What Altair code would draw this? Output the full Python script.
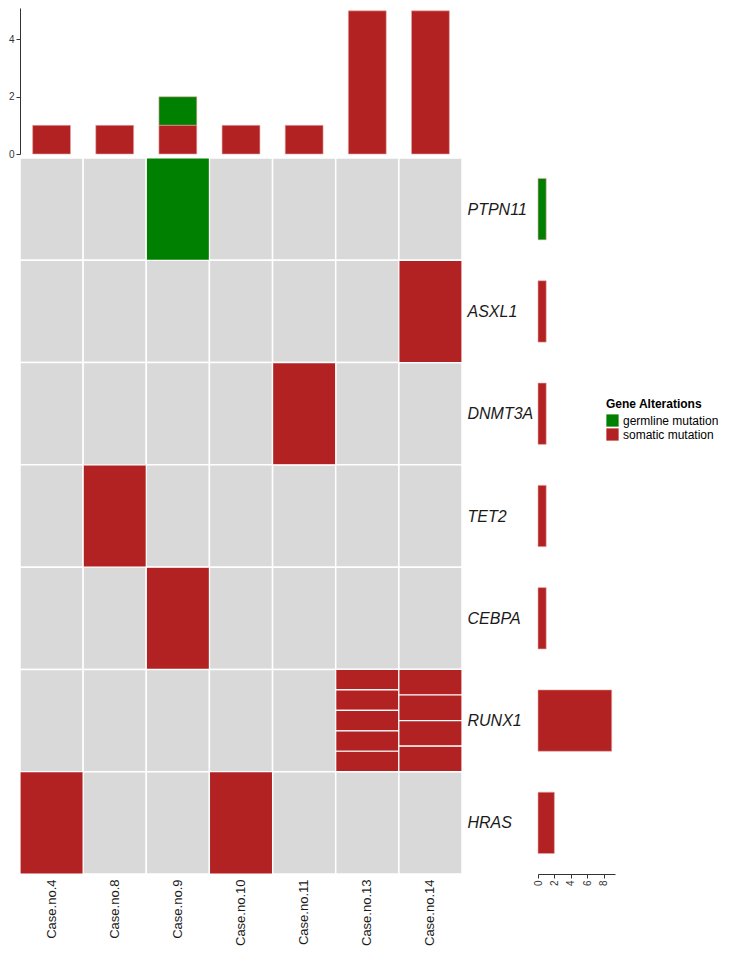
import json
import altair as alt
import pandas as pd

# ---- data ----
cases = ["Case.no.4", "Case.no.8", "Case.no.9", "Case.no.10", "Case.no.11", "Case.no.13", "Case.no.14"]
genes = ["PTPN11", "ASXL1", "DNMT3A", "TET2", "CEBPA", "RUNX1", "HRAS"]
types = ["germline mutation", "somatic mutation"]
type_colors = ["#008000", "#B22222"]

# mutation records: (gene, case, type, number of alterations)
mut_gene = ["PTPN11", "ASXL1", "DNMT3A", "TET2", "CEBPA", "RUNX1", "RUNX1", "HRAS", "HRAS"]
mut_case = ["Case.no.9", "Case.no.14", "Case.no.11", "Case.no.8", "Case.no.9", "Case.no.13", "Case.no.14", "Case.no.4", "Case.no.10"]
mut_type = ["germline mutation", "somatic mutation", "somatic mutation", "somatic mutation", "somatic mutation",
            "somatic mutation", "somatic mutation", "somatic mutation", "somatic mutation"]
mut_count = [1, 1, 1, 1, 1, 5, 4, 1, 1]

# ---- tables ----
bg = pd.DataFrame([(c, g, genes.index(g), genes.index(g) + 1) for g in genes for c in cases],
                  columns=["case", "gene", "y0", "y1"])
rows = []
for g, c, t, n in zip(mut_gene, mut_case, mut_type, mut_count):
    gi = genes.index(g)
    for k in range(n):
        rows.append(dict(case=c, gene=g, type=t, y0=gi + k / n, y1=gi + (k + 1) / n, one=1,
                         tord=types.index(t)))
muts = pd.DataFrame(rows)

color = alt.Color("type:N", scale=alt.Scale(domain=types, range=type_colors),
                  legend=alt.Legend(title="Gene Alterations", orient="none", legendX=586, legendY=391,
                                    symbolType="square", symbolSize=150, symbolStrokeWidth=0,
                                    titleFontSize=12, labelFontSize=12, titleFontWeight="bold",
                                    rowPadding=1, titlePadding=3))

FONT = "Liberation Sans"

# ---- top bar chart ----
top = alt.Chart(muts).mark_bar(stroke="#e9a9a9", strokeWidth=0.6).encode(
    x=alt.X("case:N", sort=cases, scale=alt.Scale(paddingInner=0.4, paddingOuter=0.2), axis=None),
    y=alt.Y("sum(one):Q", stack="zero", scale=alt.Scale(domain=[0, 5.1], nice=False),
            axis=alt.Axis(values=[0, 2, 4], title=None, grid=False, tickSize=4, labelFontSize=10,
                          domainColor="#333", tickColor="#333", labelColor="#333", labelPadding=2)),
    color=color,
    order=alt.Order("tord:Q", sort="descending"),
).properties(width=442, height=146)

# ---- heatmap ----
label_expr = json.dumps(genes) + "[floor(datum.value)]"
xh = alt.X("case:N", sort=cases, scale=alt.Scale(paddingInner=0, paddingOuter=0),
           axis=alt.Axis(title=None, labelAngle=270, ticks=False, domain=False, labelFontSize=13,
                         labelColor="#1a1a1a", labelPadding=5))
yh = alt.Y("y0:Q", scale=alt.Scale(domain=[0, 7], reverse=True, nice=False, zero=False),
           axis=alt.Axis(orient="right", values=[i + 0.5 for i in range(len(genes))], labelExpr=label_expr,
                         title=None, ticks=False, domain=False, grid=False, labelFontSize=16,
                         labelFontStyle="italic", labelColor="#1a1a1a", labelPadding=5))
bg_layer = alt.Chart(bg).mark_rect(fill="#D9D9D9", stroke="white", strokeWidth=1.5).encode(
    x=xh, y=yh, y2="y1:Q")
mut_layer = alt.Chart(muts).mark_rect(stroke="white", strokeWidth=1.2).encode(
    x=xh, y=yh, y2="y1:Q", color=color)
heat = alt.layer(bg_layer, mut_layer).properties(width=442, height=716)

# ---- right bar chart ----
right = alt.Chart(muts).mark_bar(stroke="#e9a9a9", strokeWidth=0.6).encode(
    y=alt.Y("gene:N", sort=genes, scale=alt.Scale(paddingInner=0.4, paddingOuter=0.2), axis=None),
    x=alt.X("sum(one):Q", stack="zero", scale=alt.Scale(domain=[0, 9.4], nice=False),
            axis=alt.Axis(values=[0, 2, 4, 6, 8], title=None, grid=False, tickSize=4, labelFontSize=10,
                          labelAngle=270, domainColor="#333", tickColor="#333", labelColor="#333",
                          labelPadding=2)),
    color=color,
    order=alt.Order("tord:Q", sort="descending"),
).properties(width=77, height=716)

chart = alt.vconcat(
    top,
    alt.hconcat(heat, right, spacing=76, bounds="flush"),
    spacing=4, bounds="flush",
).resolve_scale(color="shared").resolve_legend(color="shared").properties(padding=0).configure(
    font=FONT
).configure_view(stroke=None)

chart.save("out.html", embed_options={"renderer": "svg", "actions": False})
